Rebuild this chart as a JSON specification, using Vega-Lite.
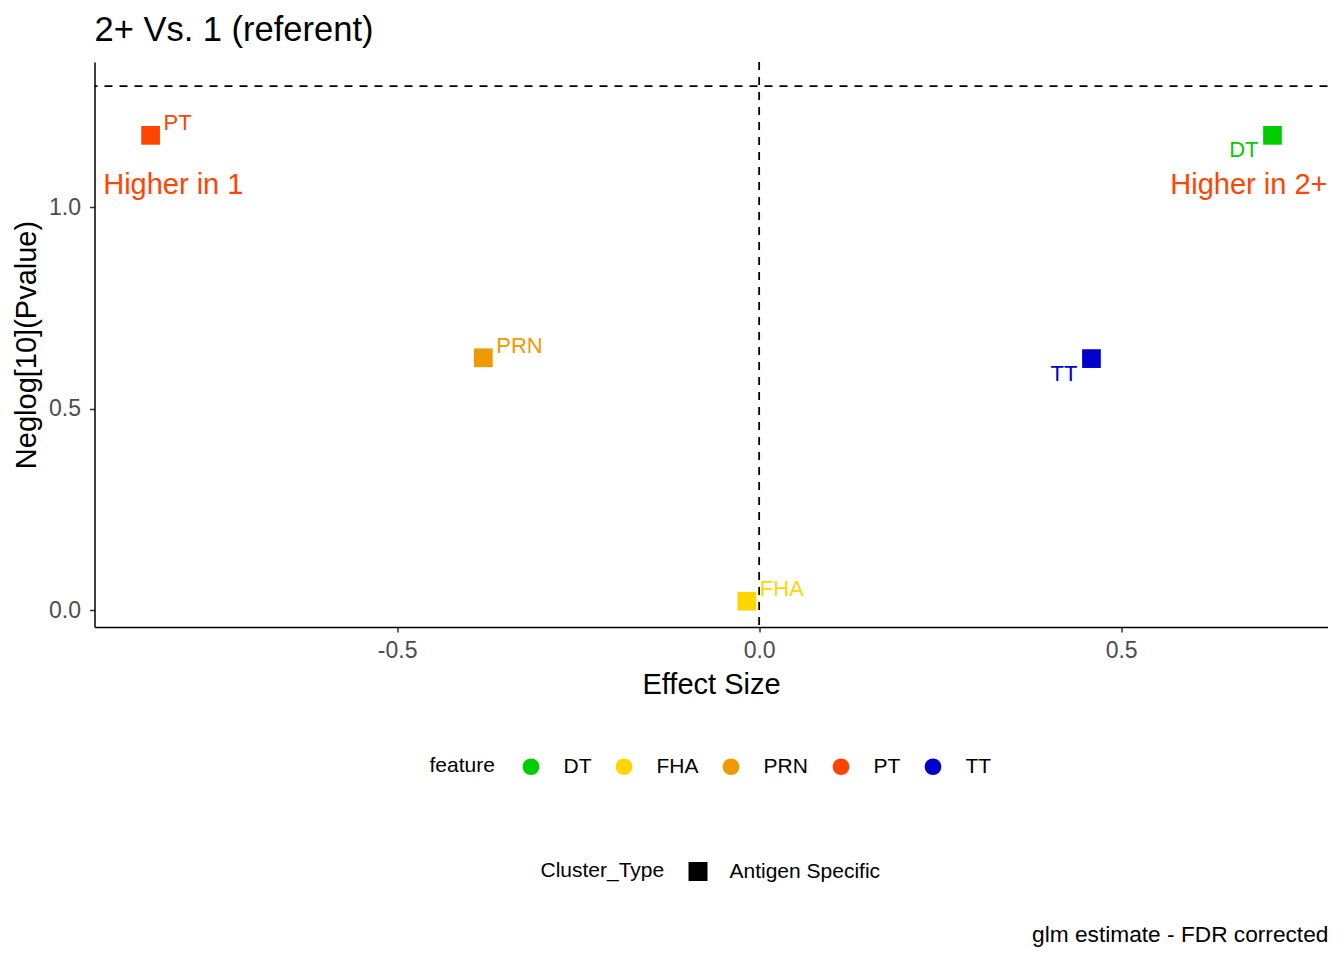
{
  "$schema": "https://vega.github.io/schema/vega-lite/v6.json",
  "padding": {"left": 12.5, "top": 12, "right": 16, "bottom": 10},
  "title": {
    "text": "glm estimate - FDR corrected",
    "orient": "bottom",
    "anchor": "end",
    "frame": "bounds",
    "fontSize": 22.7,
    "fontWeight": "normal",
    "color": "black",
    "offset": 42
  },
  "resolve": {"legend": {"color": "independent", "shape": "independent"}},
  "vconcat": [
    {
      "width": 1233,
      "height": 565,
      "title": {
        "text": "2+ Vs. 1 (referent)",
        "anchor": "start",
        "frame": "group",
        "fontSize": 34.5,
        "fontWeight": "normal",
        "color": "black",
        "offset": 13
      },
      "data": {
        "values": [
          {"feature": "DT", "estimate": 0.709, "neglog": 1.179, "Cluster_Type": "Antigen Specific"},
          {"feature": "FHA", "estimate": -0.017, "neglog": 0.023, "Cluster_Type": "Antigen Specific"},
          {"feature": "PRN", "estimate": -0.381, "neglog": 0.627, "Cluster_Type": "Antigen Specific"},
          {"feature": "PT", "estimate": -0.8405, "neglog": 1.179, "Cluster_Type": "Antigen Specific"},
          {"feature": "TT", "estimate": 0.459, "neglog": 0.625, "Cluster_Type": "Antigen Specific"}
        ]
      },
      "encoding": {
        "x": {
          "field": "estimate",
          "type": "quantitative",
          "title": "Effect Size",
          "scale": {"domain": [-0.918, 0.785], "nice": false, "zero": false},
          "axis": {
            "values": [-0.5, 0, 0.5],
            "labelExpr": "replace(format(datum.value, '.1f'), '\u2212', '-')",
            "labelPadding": 7,
            "titlePadding": 8
          }
        },
        "y": {
          "field": "neglog",
          "type": "quantitative",
          "title": "Neglog[10](Pvalue)",
          "scale": {"domain": [-0.041, 1.361], "nice": false, "zero": false},
          "axis": {
            "values": [0, 0.5, 1],
            "format": ".1f",
            "labelPadding": 9,
            "titlePadding": 7
          }
        }
      },
      "layer": [
        {
          "data": {"values": [{"cutoff": 1.30103}]},
          "mark": {"type": "rule", "color": "black", "strokeWidth": 1.8, "strokeDash": [8, 7]},
          "encoding": {
            "x": null,
            "y": {"field": "cutoff", "type": "quantitative"}
          }
        },
        {
          "data": {"values": [{"zero": 0}]},
          "mark": {"type": "rule", "color": "black", "strokeWidth": 1.8, "strokeDash": [8, 7]},
          "encoding": {
            "y": null,
            "x": {"field": "zero", "type": "quantitative"}
          }
        },
        {
          "mark": {"type": "point", "filled": true, "opacity": 1, "size": 350},
          "encoding": {
            "color": {
              "field": "feature",
              "type": "nominal",
              "scale": {
                "domain": ["DT", "FHA", "PRN", "PT", "TT"],
                "range": ["#00CD00", "#FFD700", "#EE9A00", "#FF4500", "#0000CD"]
              },
              "legend": {
                "orient": "none",
                "legendX": 335,
                "legendY": 694,
                "direction": "horizontal",
                "title": "feature",
                "titleOrient": "left",
                "titlePadding": 25,
                "symbolType": "circle",
                "symbolSize": 280,
                "symbolStrokeWidth": 0,
                "labelOffset": 22,
                "columnPadding": 22
              }
            },
            "shape": {
              "field": "Cluster_Type",
              "type": "nominal",
              "scale": {"range": ["square"]},
              "legend": {
                "orient": "none",
                "legendX": 446,
                "legendY": 799,
                "direction": "horizontal",
                "title": "Cluster_Type",
                "titleOrient": "left",
                "titlePadding": 23,
                "symbolSize": 361,
                "symbolFillColor": "black",
                "symbolStrokeColor": "black",
                "symbolStrokeWidth": 0,
                "labelOffset": 21
              }
            }
          }
        },
        {
          "transform": [{"filter": "indexof(['PT', 'PRN', 'FHA'], datum.feature) >= 0"}],
          "mark": {"type": "text", "align": "left", "baseline": "middle", "dx": 13, "dy": -12, "fontSize": 22},
          "encoding": {
            "text": {"field": "feature"},
            "color": {"field": "feature", "type": "nominal", "legend": null}
          }
        },
        {
          "transform": [{"filter": "indexof(['DT', 'TT'], datum.feature) >= 0"}],
          "mark": {"type": "text", "align": "right", "baseline": "middle", "dx": -14, "dy": 15, "fontSize": 22},
          "encoding": {
            "text": {"field": "feature"},
            "color": {"field": "feature", "type": "nominal", "legend": null}
          }
        },
        {
          "data": {"values": [{"note": "Higher in 1", "estimate": -0.906, "neglog": 1.056}]},
          "mark": {"type": "text", "align": "left", "baseline": "middle", "fontSize": 29, "color": "#FF4500"},
          "encoding": {"text": {"field": "note"}}
        },
        {
          "data": {"values": [{"note": "Higher in 2+", "estimate": 0.785, "neglog": 1.056}]},
          "mark": {"type": "text", "align": "right", "baseline": "middle", "fontSize": 29, "color": "#FF4500"},
          "encoding": {"text": {"field": "note"}}
        }
      ]
    }
  ],
  "config": {
    "font": "Liberation Sans",
    "view": {"stroke": null},
    "axis": {
      "grid": false,
      "domainColor": "black",
      "domainWidth": 1.5,
      "tickColor": "#333333",
      "tickWidth": 1.5,
      "tickSize": 5,
      "labelColor": "#4D4D4D",
      "labelFontSize": 23,
      "titleFontSize": 29,
      "titleFontWeight": "normal",
      "titleColor": "black"
    },
    "legend": {
      "labelFontSize": 21,
      "labelColor": "black",
      "titleFontSize": 21,
      "titleFontWeight": "normal",
      "titleColor": "black",
      "padding": 0
    }
  }
}
